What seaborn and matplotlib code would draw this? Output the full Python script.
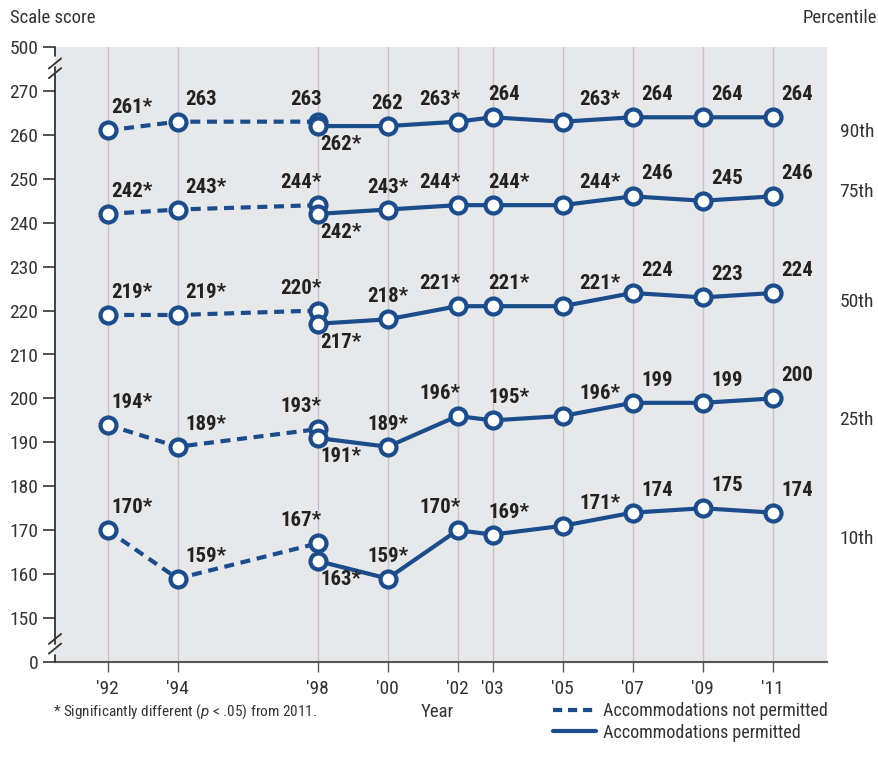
import pandas as pd
import matplotlib.pyplot as plt
import seaborn as sns
from matplotlib.lines import Line2D

# Данные: годы и баллы по перцентилям
years_np = [1992, 1994, 1998]
years_p = [1998, 2000, 2002, 2003, 2005, 2007, 2009, 2011]
percentiles = ["90th", "75th", "50th", "25th", "10th"]

scores_np = {
    "90th": [261, 263, 263],
    "75th": [242, 243, 244],
    "50th": [219, 219, 220],
    "25th": [194, 189, 193],
    "10th": [170, 159, 167],
}
scores_p = {
    "90th": [262, 262, 263, 264, 263, 264, 264, 264],
    "75th": [242, 243, 244, 244, 244, 246, 245, 246],
    "50th": [217, 218, 221, 221, 221, 224, 223, 224],
    "25th": [191, 189, 196, 195, 196, 199, 199, 200],
    "10th": [163, 159, 170, 169, 171, 174, 175, 174],
}
# значимо отличается от 2011
signif_np = {
    "90th": [True, False, False],
    "75th": [True, True, True],
    "50th": [True, True, True],
    "25th": [True, True, True],
    "10th": [True, True, True],
}
signif_p = {
    "90th": [True, False, True, False, True, False, False, False],
    "75th": [True, True, True, True, True, False, False, False],
    "50th": [True, True, True, True, True, False, False, False],
    "25th": [True, True, True, True, True, False, False, False],
    "10th": [True, True, True, True, True, False, False, False],
}
tick_years = [1992, 1994, 1998, 2000, 2002, 2003, 2005, 2007, 2009, 2011]
tick_labels = ["'92", "'94", "'98", "'00", "'02", "'03", "'05", "'07", "'09", "'11"]
pct_label_y = [260.6, 247.0, 222.0, 195.0, 168.0]

BLUE = "#1b4c8c"
FONT = ["Roboto Condensed", "Roboto", "DejaVu Sans"]

sns.set_style("white")
plt.rcParams["font.family"] = FONT
plt.rcParams["mathtext.fontset"] = "custom"
plt.rcParams["mathtext.it"] = "Roboto:italic"
plt.rcParams["mathtext.rm"] = "Roboto"

rows = []
for pct in percentiles:
    for y, s, sig in zip(years_np, scores_np[pct], signif_np[pct]):
        rows.append(dict(year=y, score=s, pct=pct, acc="not", sig=sig))
    for y, s, sig in zip(years_p, scores_p[pct], signif_p[pct]):
        rows.append(dict(year=y, score=s, pct=pct, acc="yes", sig=sig))
df = pd.DataFrame(rows)

fig = plt.figure(figsize=(8.79, 7.73), dpi=100)
ax = fig.add_axes([55 / 879, 111 / 773, 772 / 879, 615 / 773])
ax.set_facecolor("#e7e8ea")

for x in tick_years:
    ax.axvline(x, color="#c4c4c6", lw=1, zorder=0)

marker_kw = dict(marker="o", markersize=11.5, markerfacecolor="white",
                 markeredgecolor=BLUE, markeredgewidth=3, linewidth=3, color=BLUE)
for pct in percentiles:
    d_np = df[(df.pct == pct) & (df.acc == "not")]
    d_p = df[(df.pct == pct) & (df.acc == "yes")]
    sns.lineplot(data=d_np, x="year", y="score", ax=ax, dashes=False,
                 linestyle=(0, (2.4, 1.6)), zorder=3, **marker_kw)
    sns.lineplot(data=d_p, x="year", y="score", ax=ax, zorder=4, **marker_kw)

# подписи значений
place = {
    1992: (4, 13, "left", "bottom"),
    1994: (8, 13, "left", "bottom"),
    2000: (0, 13, "center", "bottom"),
    2002: (3, 13, "right", "bottom"),
    2003: (-4, 13, "left", "bottom"),
    2005: (17, 13, "left", "bottom"),
    2007: (9, 13, "left", "bottom"),
    2009: (9, 13, "left", "bottom"),
    2011: (9, 13, "left", "bottom"),
}
for _, r in df.iterrows():
    if r.year == 1998:
        pos = (4, 13, "right", "bottom") if r.acc == "not" else (3, -9, "left", "top")
    else:
        pos = place[r.year]
    txt = f"{r.score}*" if r.sig else f"{r.score}"
    ax.annotate(txt, (r.year, r.score), xytext=(pos[0], pos[1]),
                textcoords="offset pixels", ha=pos[2], va=pos[3],
                fontsize=15, fontweight="bold", color="#222222", zorder=5)

for pct, yy in zip(percentiles, pct_label_y):
    ax.text(2013.4, yy, pct, ha="center", va="center", fontsize=14,
            color="#333333", clip_on=False)

# ось Y с разрывами: 0 -> 140, 500 -> 280
ax.set_ylim(140, 280)
ax.set_xlim(1990.5, 2012.55)
yt = [140, 150, 160, 170, 180, 190, 200, 210, 220, 230, 240, 250, 260, 270, 280]
ax.set_yticks(yt)
ax.set_yticklabels(["0"] + [str(v) for v in range(150, 271, 10)] + ["500"])
ax.set_xticks(tick_years)
ax.set_xticklabels(tick_labels)
ax.tick_params(axis="y", length=9, width=1.2, color="#333333", labelsize=14,
               labelcolor="#333333", pad=3, direction="out", left=True)
ax.tick_params(axis="x", length=7, width=1, color="#555555", labelsize=14,
               labelcolor="#333333", pad=6, direction="out", bottom=True)
for s in ["top", "right"]:
    ax.spines[s].set_visible(False)
ax.spines["left"].set_visible(False)
ax.spines["bottom"].set_color("#555555")
ax.spines["bottom"].set_linewidth(1.5)
ax.set_xlabel("")
ax.set_ylabel("")

# левая ось отрезками с разрывами
tr = ax.get_yaxis_transform()
for y0, y1 in [(141.5, 140), (144, 150), (150, 270), (270, 275.5), (278, 280)]:
    ax.plot([0, 0], [y0, y1], transform=tr, color="#333333", lw=1.3, clip_on=False, zorder=6)
for yb in [(143.2, 145.5), (274.2, 276.5)]:
    for off in [-1.3, 0.9]:
        ax.plot([-0.008, 0.008], [yb[0] + off, yb[1] + off], transform=tr,
                color="#333333", lw=1.3, clip_on=False, zorder=6)

fig.text(10 / 879, 1 - 18 / 773, "Scale score", fontsize=13.5, color="#333333", va="center")
fig.text(877 / 879, 1 - 18 / 773, "Percentile", fontsize=13.5, color="#333333",
         va="center", ha="right")
fig.text(437 / 879, 1 - 712 / 773, "Year", fontsize=13.5, color="#333333",
         va="center", ha="center")
fig.text(53 / 879, 1 - 712 / 773, r"* Significantly different ($\it{p}$ < .05) from 2011.",
         fontsize=11, color="#333333", va="center")

handles = [Line2D([], [], color=BLUE, lw=3, linestyle=(0, (2.2, 1.4))),
           Line2D([], [], color=BLUE, lw=3)]
fig.legend(handles, ["Accommodations not permitted", "Accommodations permitted"],
           loc="center left", bbox_to_anchor=(544 / 879, 1 - 722 / 773),
           frameon=False, fontsize=13, handlelength=2.4, handletextpad=0.35,
           labelspacing=0.2, borderpad=0, labelcolor="#333333")

fig.savefig("out.png", dpi=100)
